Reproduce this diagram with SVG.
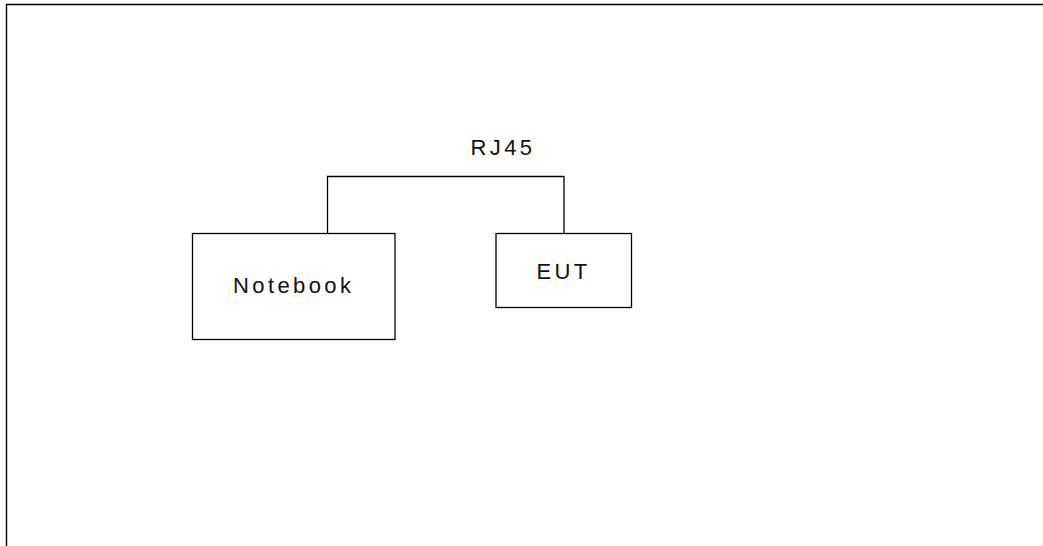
<svg xmlns="http://www.w3.org/2000/svg" width="1043" height="546" viewBox="0 0 1043 546">
  <style>
    .frame { fill: none; stroke: #000; stroke-width: 1.4; }
    .box { fill: #fff; stroke: #000; stroke-width: 1.3; }
    .wire { fill: none; stroke: #000; stroke-width: 1.3; }
    .label { font-family: "Liberation Sans", Arial, sans-serif; font-size: 22px; letter-spacing: 3.4px; fill: #111; }
  </style>
  <rect x="0" y="0" width="1043" height="546" fill="#fff"/>
  <!-- page border, open to the right and bottom -->
  <path class="frame" d="M6.5 546 V4.5 H1043"/>

  <g id="connectors">
    <path class="wire" d="M327.5 233.5 V176.5 H564 V233.5"/>
    <text id="rj45-label" class="label" x="470.5" y="154.5">RJ45</text>
  </g>

  <g id="notebook">
    <rect class="box" x="192.5" y="233.5" width="202.5" height="106"/>
    <text class="label" x="233" y="292.5">Notebook</text>
  </g>

  <g id="eut">
    <rect class="box" x="496" y="233.5" width="135.5" height="74"/>
    <text class="label" x="536.5" y="279">EUT</text>
  </g>
</svg>
